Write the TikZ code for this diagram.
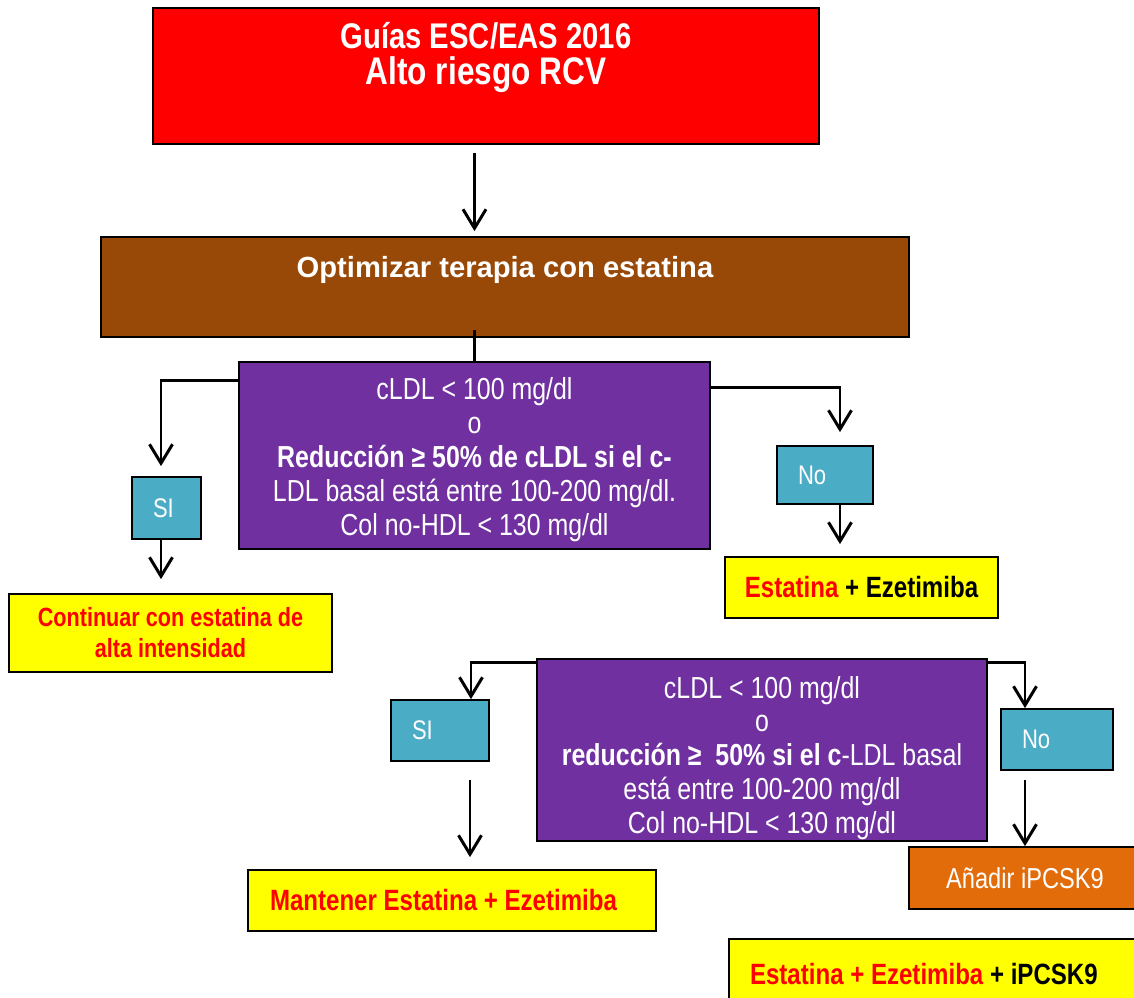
\documentclass[tikz,border=0pt]{standalone}
\usepackage{fontspec}
\setmainfont{Liberation Sans}
\newfontfamily\narrow[FakeStretch=0.82]{Liberation Sans}
\usetikzlibrary{arrows.meta}

\definecolor{rojo}{HTML}{FF0000}
\definecolor{marron}{HTML}{984807}
\definecolor{morado}{HTML}{7030A0}
\definecolor{turquesa}{HTML}{4BACC6}
\definecolor{amarillo}{HTML}{FFFF00}
\definecolor{naranja}{HTML}{E36C0A}

\begin{document}
\begin{tikzpicture}[
    x=0.02cm, y=-0.02cm,
    box/.style={draw, line width=1pt, rectangle, inner sep=0pt, align=center},
    meta/.style={box, fill=morado},
    metatxt/.style={text=white, align=center, inner sep=0pt,
                    font=\narrow\fontsize{17.3}{19.3}\selectfont},
    answer/.style={box, fill=turquesa, text=white, align=flush left, inner xsep=0.42cm,
                   font=\narrow\fontsize{15.3}{17}\selectfont},
    result/.style={box, fill=amarillo, text=rojo,
                   font=\narrow\bfseries\fontsize{16.7}{17.6}\selectfont},
    arrow/.style={-{Straight Barb[length=0.38cm, width=0.46cm]}, line width=1.7pt},
    link/.style={line width=1.7pt}
]
    \useasboundingbox (0,0) rectangle (1134,998);
    \clip (0,0) rectangle (1134,998);

    % Guias
    \node[box, fill=rojo, minimum width=13.32cm, minimum height=2.72cm] (titulo) at (486,76) {};
    \node[text=white, align=center, anchor=north, inner sep=0pt,
          font=\narrow\bfseries\fontsize{20.3}{20.6}\selectfont]
          (titulotxt) at ([yshift=-0.3cm]titulo.north)
          {Guías ESC/EAS 2016\\{\fontsize{21.9}{20.6}\selectfont Alto riesgo RCV}};
    % Estatina
    \node[box, fill=marron, minimum width=16.16cm, minimum height=2cm] (optimizar) at (505,287) {};
    \node[text=white, anchor=north, inner sep=0pt,
          font=\bfseries\fontsize{16.6}{20}\selectfont]
          (optimizartxt) at ([yshift=-0.4cm]optimizar.north) {Optimizar terapia con estatina};

    % First target
    \node[meta, minimum width=9.42cm, minimum height=3.74cm] (meta1) at (474.5,455.5) {};
    \node[metatxt] (meta1txt) at ([yshift=-0.08cm]meta1.center)
         {cLDL < 100 mg/dl\\o\\\textbf{Reducción ≥ 50\% de cLDL si el c-}\\
          LDL basal está entre 100-200 mg/dl.\\Col no-HDL < 130 mg/dl};
    \node[answer, text width=0.54cm, minimum width=1.38cm, minimum height=1.24cm] (si1) at (166.5,508) {SI};
    \node[result, font=\narrow\bfseries\fontsize{15}{17.6}\selectfont,
          minimum width=6.46cm, minimum height=1.56cm] (continuar) at (170.5,633)
         {Continuar con estatina de\\alta intensidad};
    \node[answer, text width=1.08cm, minimum width=1.92cm, minimum height=1.16cm] (no1) at (825,475) {No};
    \node[result, minimum width=5.46cm, minimum height=1.22cm] (ezetimiba) at (861.5,587.5)
         {Estatina \textcolor{black}{+ Ezetimiba}};

    % Second target
    \node[meta, minimum width=9cm, minimum height=3.64cm] (meta2) at (762,750) {};
    \node[metatxt] (meta2txt) at ([yshift=-0.16cm]meta2.center)
         {cLDL < 100 mg/dl\\o\\\textbf{reducción ≥\ \ 50\% si el c}-LDL basal\\
          está entre 100-200 mg/dl\\Col no-HDL < 130 mg/dl};
    \node[answer, text width=1.12cm, minimum width=1.96cm, minimum height=1.22cm] (si2) at (440,730.5) {SI};
    \node[result, align=flush left, inner xsep=0.44cm, text width=7.28cm,
          minimum width=8.16cm, minimum height=1.22cm] (mantener) at (452,900.5)
         {Mantener Estatina + Ezetimiba};
    \node[answer, text width=1.4cm, minimum width=2.24cm, minimum height=1.22cm] (no2) at (1057,739.5) {No};
    \node[box, fill=naranja, text=white, font=\narrow\fontsize{16.4}{18}\selectfont,
          minimum width=4.64cm, minimum height=1.24cm] (anadir) at (1025,878) {Añadir iPCSK9};
    \node[result, align=flush left, inner xsep=0.42cm, text width=7.48cm,
          minimum width=8.32cm, minimum height=1.42cm] (triple) at (937,974.5)
         {Estatina + Ezetimiba \textcolor{black}{+ iPCSK9}};

    % Arrows
    \draw[arrow, shorten <=0.16cm, shorten >=0.1cm] (titulo.south -| meta1.north) -- (optimizar.north -| meta1.north);
    \draw[link] ([yshift=0.16cm]optimizar.south -| meta1.north) -- (meta1.north);
    \draw[arrow, shorten >=0.2cm] ([yshift=-0.38cm]meta1.north west) -| ([xshift=-0.11cm]si1.north);
    \draw[arrow, shorten >=0.28cm] ([xshift=-0.11cm]si1.south) -- ([xshift=-0.11cm]si1.south |- continuar.north);
    \draw[arrow, shorten >=0.26cm] ([yshift=-0.52cm]meta1.north east) -| ([xshift=0.3cm]no1.north);
    \draw[arrow, shorten >=0.24cm] ([xshift=0.3cm]no1.south) -- ([xshift=0.3cm]no1.south |- ezetimiba.north);
    \draw[arrow] ([yshift=-0.08cm]meta2.north west) -| ([xshift=0.62cm]si2.north);
    \draw[arrow, shorten <=0.36cm, shorten >=0.24cm] ([xshift=0.6cm]si2.south) -- ([xshift=0.6cm]si2.south |- mantener.north);
    \draw[arrow] ([yshift=-0.08cm]meta2.north east) -| (no2.north -| anadir.north);
    \draw[arrow, shorten <=0.18cm] (no2.south -| anadir.north) -- (anadir.north);
\end{tikzpicture}
\end{document}
